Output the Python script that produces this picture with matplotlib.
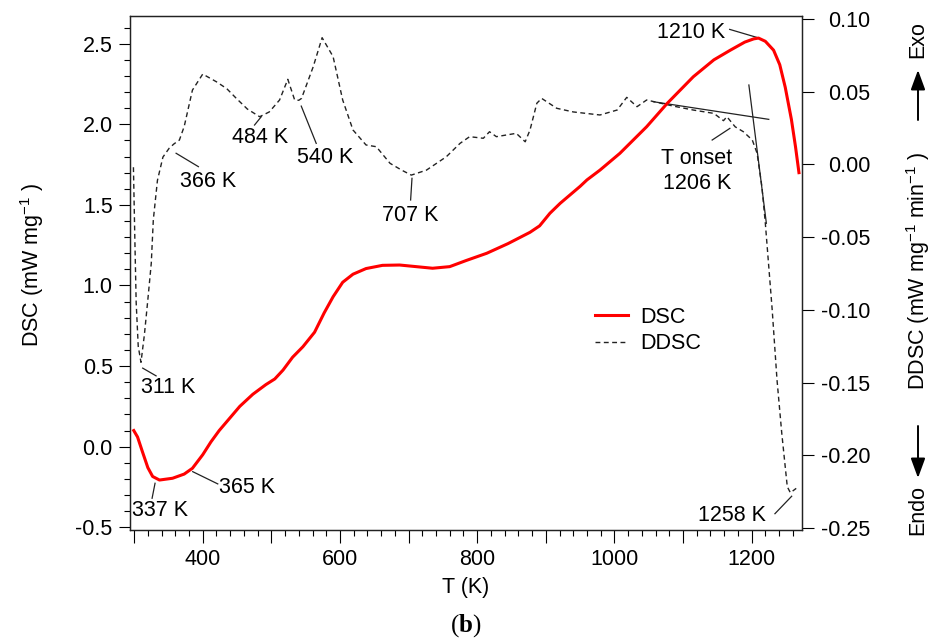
import numpy as np
import matplotlib
matplotlib.use("Agg")
import matplotlib.pyplot as plt
from matplotlib.patches import FancyArrowPatch
from matplotlib.ticker import MultipleLocator, FuncFormatter

plt.rcParams['font.family'] = ['Liberation Sans', 'DejaVu Sans']
plt.rcParams['mathtext.fontset'] = 'custom'
plt.rcParams['mathtext.rm'] = 'Liberation Sans'
plt.rcParams['mathtext.it'] = 'Liberation Sans:italic'
plt.rcParams['mathtext.bf'] = 'Liberation Serif:bold'
plt.rcParams['mathtext.default'] = 'regular'
plt.rcParams['axes.unicode_minus'] = False

# DSC curve (left axis, mW/mg)
dsc_T = [299.5, 305, 312, 320, 327, 337, 356, 373, 385, 400, 412, 424, 440, 454,
         473, 492, 505, 517, 531, 546, 563, 577, 590, 604, 619, 638, 662, 687,
         711, 735, 760, 784, 814, 845, 877, 891, 906, 921, 950, 960, 979, 1008, 1047,
         1077, 1115, 1145, 1169, 1190, 1203, 1210, 1220, 1232, 1241, 1249, 1258,
         1264, 1269]
dsc_val = [0.10, 0.06, -0.03, -0.13, -0.185, -0.207, -0.196, -0.17, -0.134, -0.05,
           0.03, 0.10, 0.18, 0.25, 0.325, 0.385, 0.42, 0.475, 0.555, 0.62, 0.71,
           0.83, 0.93, 1.02, 1.07, 1.105, 1.125, 1.127, 1.117, 1.107, 1.117, 1.155,
           1.20, 1.26, 1.33, 1.37, 1.448, 1.51, 1.615, 1.655, 1.716, 1.82, 1.985, 2.13,
           2.295, 2.40, 2.46, 2.51, 2.53, 2.535, 2.515, 2.46, 2.37, 2.23, 2.03,
           1.86, 1.70]

# DDSC curve (right axis, mW/mg/min)
ddsc_T = [299, 301, 303, 306, 310, 315, 320, 325, 328, 334, 342, 351, 358, 366,
          373, 385, 400, 420, 435, 449, 465, 483, 497, 512, 524, 534, 540, 544,
          561, 574, 590, 604, 619, 638, 653, 673, 690, 704, 726, 755, 775, 789,
          809, 818, 828, 857, 870, 877, 887, 894, 916, 940, 979, 1004, 1018, 1033,
          1047, 1086, 1115, 1145, 1159, 1164, 1176, 1188, 1201, 1208, 1215, 1220,
          1230, 1237, 1244, 1252, 1256.5, 1265]
ddsc_val = [-0.002, -0.05, -0.095, -0.125, -0.136, -0.117, -0.093, -0.068, -0.038,
            -0.011, 0.005, 0.011, 0.014, 0.0167, 0.026, 0.051, 0.062, 0.0567, 0.052,
            0.0453, 0.038, 0.0327, 0.036, 0.0442, 0.0584, 0.0442, 0.044, 0.0453,
            0.067, 0.087, 0.074, 0.0442, 0.0236, 0.0133, 0.0121, 0.0007, -0.004,
            -0.0074, -0.004, 0.0052, 0.0144, 0.019, 0.0179, 0.0224, 0.019, 0.0213,
            0.0155, 0.0236, 0.042, 0.0453, 0.0385, 0.036, 0.0339, 0.0373, 0.046,
            0.0396, 0.0442, 0.040, 0.0373, 0.035, 0.030, 0.0327, 0.0258, 0.0224,
            0.0167, 0.0076, -0.0154, -0.0405, -0.10, -0.148, -0.185, -0.2215,
            -0.2256, -0.2226]

# onset tangents (on DDSC axis)
tangent1_T = [1057, 1225]
tangent1_v = [0.0430, 0.0309]
tangent2_T = [1196, 1221.5]
tangent2_v = [0.0545, -0.0405]

FS = 15.5
fig = plt.figure(figsize=(9.36, 6.39), dpi=100)
ax = fig.add_axes([130 / 936, 1 - 530 / 639, 671.7 / 936, 514 / 639])
ax2 = ax.twinx()

ln1, = ax.plot(dsc_T, dsc_val, color='#ff0000', lw=2.2, zorder=3, label='DSC')
ln2, = ax2.plot(ddsc_T, ddsc_val, color='#222222', lw=1.0, dashes=(3.5, 2.5), label='DDSC')
ax2.plot(tangent1_T, tangent1_v, color='#222222', lw=0.9)
ax2.plot(tangent2_T, tangent2_v, color='#222222', lw=0.9)

ax.set_xlim(294, 1273)
ax.set_ylim(-0.517, 2.672)
ax2.set_ylim(-0.2512, 0.1019)
ax.set_zorder(ax2.get_zorder() + 1)
ax.patch.set_visible(False)

# x ticks: long every 200, medium at odd hundreds, minor every 20
ax.set_xticks(np.arange(300, 1201, 100))
ax.xaxis.set_major_formatter(FuncFormatter(lambda v, p: '%d' % v if int(round(v)) % 200 == 0 else ''))
ax.xaxis.set_minor_locator(MultipleLocator(20))
ax.yaxis.set_major_locator(MultipleLocator(0.5))
ax.yaxis.set_minor_locator(MultipleLocator(0.1))
ax.yaxis.set_major_formatter(FuncFormatter(lambda v, p: '%.1f' % v))
ax.tick_params(axis='x', which='major', direction='out', length=9.4, width=0.8, pad=4, labelsize=FS, top=False)
ax.tick_params(axis='x', which='minor', direction='out', length=4.5, width=0.8, top=False)
ax.tick_params(axis='y', which='major', direction='out', length=8, width=0.8, pad=4.5, labelsize=FS, right=False)
ax.tick_params(axis='y', which='minor', direction='out', length=4.1, width=0.8, right=False)
for t in ax.xaxis.get_major_ticks():
    if int(round(t.get_loc())) % 200 == 100:
        t.tick1line.set_markersize(6.5)

ax2.set_yticks(np.arange(-0.25, 0.101, 0.05))
ax2.yaxis.set_major_formatter(FuncFormatter(lambda v, p: '%.2f' % (0 if abs(v) < 1e-9 else v)))
ax2.tick_params(axis='y', which='major', direction='out', length=8.4, width=0.8, pad=40.8, labelsize=FS)
for lab in ax2.get_yticklabels():
    lab.set_ha('right')

for a in (ax, ax2):
    for s in a.spines.values():
        s.set_color('#222222')
        s.set_linewidth(0.9)

fig.text(32 / 936, 1 - 265 / 639, 'DSC (mW mg$^{-1}$ )', rotation=90, ha='center', va='center', fontsize=FS)
fig.text(918 / 936, 1 - 271 / 639, 'DDSC (mW mg$^{-1}$ min$^{-1}$ )', rotation=90, ha='center', va='center', fontsize=FS)
fig.text(466 / 936, 1 - 588 / 639, 'T (K)', ha='center', va='center', fontsize=FS)
fig.text(466 / 936, 1 - 626 / 639, r'($\mathbf{b}$)', ha='center', va='center', fontsize=18, family='Liberation Serif')
fig.text(918 / 936, 1 - 40 / 639, 'Exo', rotation=90, ha='center', va='center', fontsize=FS)
fig.text(918 / 936, 1 - 510 / 639, 'Endo', rotation=90, ha='center', va='center', fontsize=FS)
arr = dict(arrowstyle='-|>,head_length=0.6,head_width=0.22', color='black', lw=1.4, shrinkA=0, shrinkB=0)
fig.add_artist(FancyArrowPatch((918 / 936, 1 - 120 / 639), (918 / 936, 1 - 70 / 639),
                               transform=fig.transFigure, mutation_scale=20, **arr))
fig.add_artist(FancyArrowPatch((918 / 936, 1 - 426 / 639), (918 / 936, 1 - 478 / 639),
                               transform=fig.transFigure, mutation_scale=20, **arr))

# annotations: label, text pos, leader start, leader end
lead = dict(color='#222222', lw=0.9)
def note(a, txt, tx, ty, p1, p2):
    a.text(tx, ty, txt, ha='center', va='center', fontsize=FS, zorder=5)
    a.plot([p1[0], p2[0]], [p1[1], p2[1]], **lead)

note(ax, '1210 K', 1112, 2.572, (1168, 2.589), (1207, 2.540))
note(ax, '337 K', 338, -0.397, (330.5, -0.227), (326.2, -0.320))
note(ax, '365 K', 464.5, -0.252, (385.4, -0.155), (421.9, -0.231))
note(ax2, 'T onset\n1206 K', 1120, -0.0046, (1142.5, 0.0167), (1168.3, 0.0247))
note(ax2, '366 K', 408.3, -0.012, (361.2, 0.0076), (393.7, -0.0016))
note(ax2, '484 K', 483.9, 0.0185, (475.5, 0.027), (485.3, 0.0327))
note(ax2, '540 K', 578.8, 0.0048, (543.6, 0.040), (565.4, 0.0144))
note(ax2, '707 K', 702.9, -0.0353, (705, -0.0096), (703, -0.0245))
note(ax2, '311 K', 349, -0.1532, (312.5, -0.140), (332, -0.1453))
note(ax2, '1258 K', 1170.8, -0.2413, (1234, -0.240), (1258.4, -0.228))

fig.legend([ln1, ln2], ['DSC', 'DDSC'], loc='upper left', bbox_to_anchor=(595 / 936, 1 - 307 / 639),
           frameon=False, fontsize=FS, handlelength=1.54, handletextpad=0.56, labelspacing=0.25,
           borderpad=0, borderaxespad=0)

fig.savefig('out.png', dpi=100)
